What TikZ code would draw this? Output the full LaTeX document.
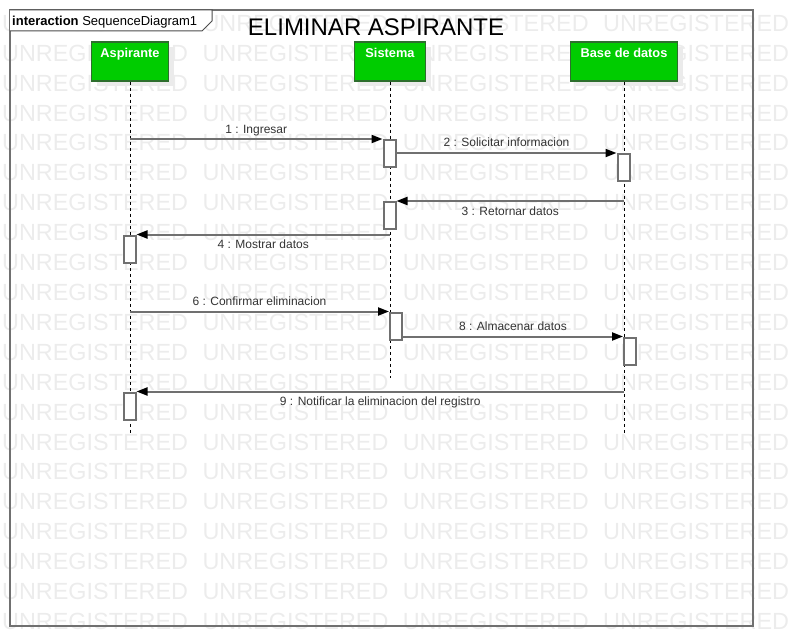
\documentclass[tikz,border=0pt]{standalone}
\usepackage{fontspec}
\setmainfont{Liberation Sans}
\usetikzlibrary{arrows.meta,shadows}
\definecolor{headgreen}{RGB}{0,204,0}
\definecolor{headborder}{RGB}{45,110,45}
\definecolor{linegray}{RGB}{112,112,112}
\definecolor{wmgray}{RGB}{236,236,236}

\begin{document}
\begin{tikzpicture}[x=1pt, y=-1pt,
    head/.style={draw=headborder, line width=1.5pt, fill=headgreen, text=white,
      font=\fontsize{12.8}{14}\selectfont\bfseries, inner sep=0pt,
      text height=16pt, text depth=23pt,
      drop shadow={shadow xshift=5pt, shadow yshift=-5pt, fill=black!8, opacity=1}},
    act/.style={draw=linegray, line width=2pt, fill=white, minimum width=12pt,
      minimum height=27pt, inner sep=0pt},
    msg/.style={linegray, line width=2pt,
      -{Triangle[length=11pt, width=8pt, color=black, fill=black]}},
    lifeline/.style={black, line width=1pt, dash pattern=on 3pt off 3pt},
    lbl/.style={font=\fontsize{12}{14}\selectfont, text=black!80, inner sep=1pt,
      text height=9pt, text depth=3pt},
    wmark/.style={font=\fontsize{23.4}{26}\selectfont, text=wmgray, anchor=base west,
      inner sep=0pt}]
  \useasboundingbox (0,0) rectangle (794,644);

  \foreach \r in {1,...,21}
    \foreach \c in {0,...,3}
      \node[wmark] (w-\r-\c) at (2+200.3*\c, 1.5+29.9*\r) {UNREGISTERED};

  \draw[linegray, line width=2pt] (10,10) rectangle (753,626);
  \draw[black!70, line width=1pt, fill=white] (10,10) -- (212,10) -- (212,21) -- (202,31) -- (10,31);
  \node[anchor=base west, inner sep=0pt, font=\fontsize{13}{15}\selectfont] (tab) at (12,26)
    {\textbf{interaction} SequenceDiagram1};
  \node[anchor=base, inner sep=0pt, font=\fontsize{24}{28}\selectfont] (title) at (376,36)
    {ELIMINAR ASPIRANTE};

  \node[head, minimum width=77pt] (asp) at (130,61.5) {Aspirante};
  \node[head, minimum width=71pt] (sis) at (390,61.5) {Sistema};
  \node[head, minimum width=107pt] (bd) at (624,61.5) {Base de datos};

  \coordinate (aspend) at (130,433);
  \coordinate (sisend) at (390,378);
  \coordinate (bdend) at (624,433);
  \draw[lifeline] (asp) -- (aspend);
  \draw[lifeline] (sis) -- (sisend);
  \draw[lifeline] (bd) -- (bdend);

  \node[act] (a1) at (389.5,153.5) {};
  \node[act] (a2) at (623.5,167.5) {};
  \node[act] (a3) at (389.5,215.5) {};
  \node[act] (a4) at (129.5,249) {};
  \node[act] (a5) at (396,326) {};
  \node[act] (a6) at (630,351) {};
  \node[act] (a7) at (129.5,406) {};

  \draw[msg] (asp |- a1.north west) -- node[lbl, above] (l1) {1 : Ingresar} (a1.north west);
  \draw[msg] (a1.east |- a2.north) -- node[lbl, above=1pt] (l2) {2 : Solicitar informacion} (a2.north west);
  \draw[msg] (bd |- a3.north) -- node[lbl, below=3pt] (l3) {3 : Retornar datos} (a3.north east);
  \draw[msg] (sis |- a4.north) -- node[lbl, below=3pt] (l4) {4 : Mostrar datos} (a4.north east);
  \draw[msg] (asp |- a5.north west) -- node[lbl, above=1pt] (l6) {6 : Confirmar eliminacion} (a5.north west);
  \draw[msg] (a5.east |- a6.north) -- node[lbl, above=1pt] (l8) {8 : Almacenar datos} (a6.north west);
  \draw[msg] (bd |- a7.north) -- node[lbl, below=3pt] (l9) {9 : Notificar la eliminacion del registro} (a7.north east);
\end{tikzpicture}
\end{document}
